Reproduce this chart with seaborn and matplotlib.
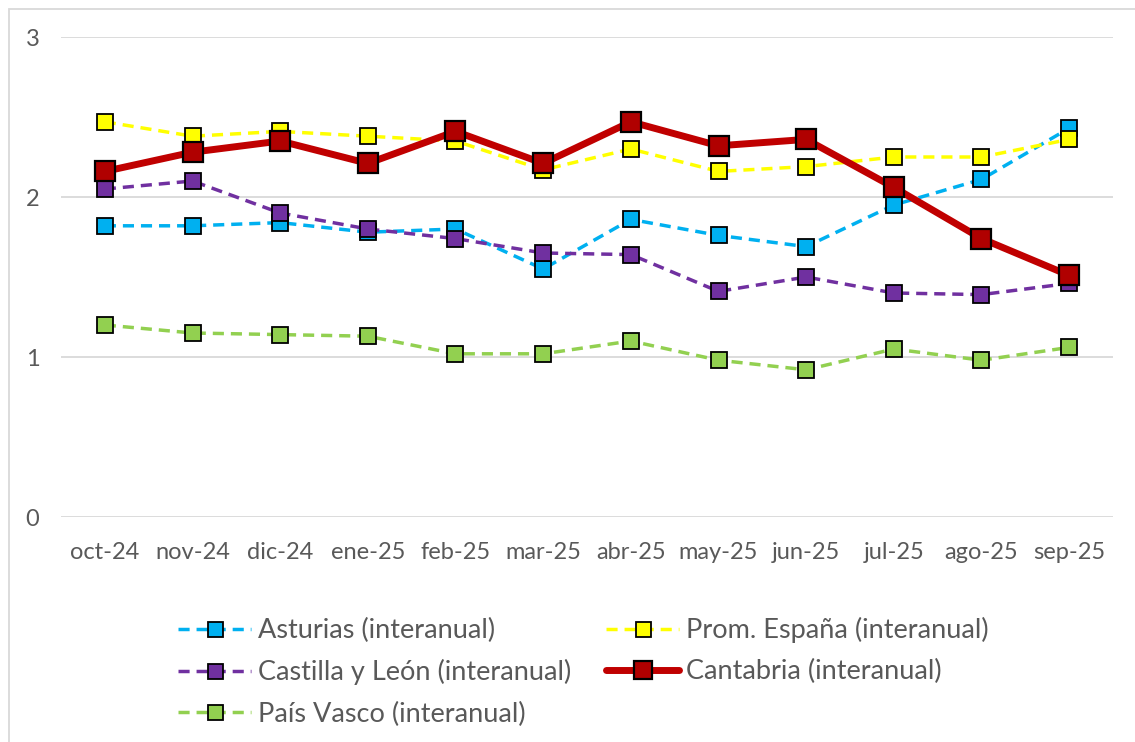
import pandas as pd
import matplotlib.pyplot as plt
import seaborn as sns
from matplotlib.patches import Rectangle

sns.set_style("white")
plt.rcParams['font.family'] = ['Lato', 'DejaVu Sans']

# data
months = ['oct-24', 'nov-24', 'dic-24', 'ene-25', 'feb-25', 'mar-25',
          'abr-25', 'may-25', 'jun-25', 'jul-25', 'ago-25', 'sep-25']
asturias = [1.82, 1.82, 1.84, 1.78, 1.80, 1.55, 1.86, 1.76, 1.69, 1.95, 2.11, 2.43]
espana = [2.47, 2.38, 2.41, 2.38, 2.35, 2.17, 2.30, 2.16, 2.19, 2.25, 2.25, 2.36]
castilla = [2.05, 2.10, 1.90, 1.80, 1.74, 1.65, 1.64, 1.41, 1.50, 1.40, 1.39, 1.46]
cantabria = [2.16, 2.28, 2.35, 2.21, 2.41, 2.21, 2.47, 2.32, 2.36, 2.06, 1.74, 1.51]
pais_vasco = [1.20, 1.15, 1.14, 1.13, 1.02, 1.02, 1.10, 0.98, 0.92, 1.05, 0.98, 1.06]

series = [
    ('Asturias (interanual)', asturias, '#00B0F0', '#00B0F0'),
    ('Prom. España (interanual)', espana, '#FFFF00', '#FFFF00'),
    ('Castilla y León (interanual)', castilla, '#7030A0', '#7030A0'),
    ('Cantabria (interanual)', cantabria, '#C00000', '#B00000'),
    ('País Vasco (interanual)', pais_vasco, '#92D050', '#92D050'),
]

fig = plt.figure(figsize=(11.35, 7.42), dpi=100)
ax = fig.add_axes([61 / 1135, 1 - 517 / 742, (1113 - 61) / 1135, (517 - 37) / 742])

handles = {}
for name, vals, lc, mc in series:
    df = pd.DataFrame({'mes': months, 'valor': vals})
    if name.startswith('Cantabria'):
        sns.lineplot(data=df, x='mes', y='valor', ax=ax, color=lc, lw=5,
                     marker='s', markersize=15, markerfacecolor=mc,
                     markeredgecolor='black', markeredgewidth=1.6, label=name)
    else:
        sns.lineplot(data=df, x='mes', y='valor', ax=ax, color=lc, lw=2.5,
                     linestyle=(0, (3.2, 2.0)), marker='s', markersize=12,
                     markerfacecolor=mc, markeredgecolor='black',
                     markeredgewidth=1.3, label=name)
    handles[name] = ax.lines[-1]

ax.get_legend().remove()
ax.set_ylim(0, 3)
ax.set_xlim(-0.5, len(months) - 0.5)
ax.set_yticks([0, 1, 2, 3])
ax.set_xlabel('')
ax.set_ylabel('')
ax.grid(axis='y', color='#D9D9D9', lw=1.3)
ax.set_axisbelow(True)
for s in ax.spines.values():
    s.set_visible(False)
ax.tick_params(axis='both', length=0, labelsize=17, labelcolor='#595959')
ax.tick_params(axis='y', pad=15.5)
ax.tick_params(axis='x', pad=18)

# legend is filled column-wise, so reorder to get the row layout
order = ['Asturias (interanual)', 'Castilla y León (interanual)', 'País Vasco (interanual)',
         'Prom. España (interanual)', 'Cantabria (interanual)']
leg = fig.legend([handles[n] for n in order], order, ncol=2, frameon=False,
                 loc='upper left', bbox_to_anchor=(178 / 1135, 1 - 617 / 742),
                 borderaxespad=0, borderpad=0,
                 fontsize=19.5, handlelength=2.7, handletextpad=0.25,
                 columnspacing=1.3, labelspacing=0.6, markerscale=0.9)
for t in leg.get_texts():
    t.set_color('#595959')

# outer chart border
fig.patches.append(Rectangle((9 / 1135, -0.01), 1.0, 1 - 9 / 742 + 0.01,
                             transform=fig.transFigure, fill=False,
                             edgecolor='#D9D9D9', lw=1.3))

fig.savefig('out.png', dpi=100)
